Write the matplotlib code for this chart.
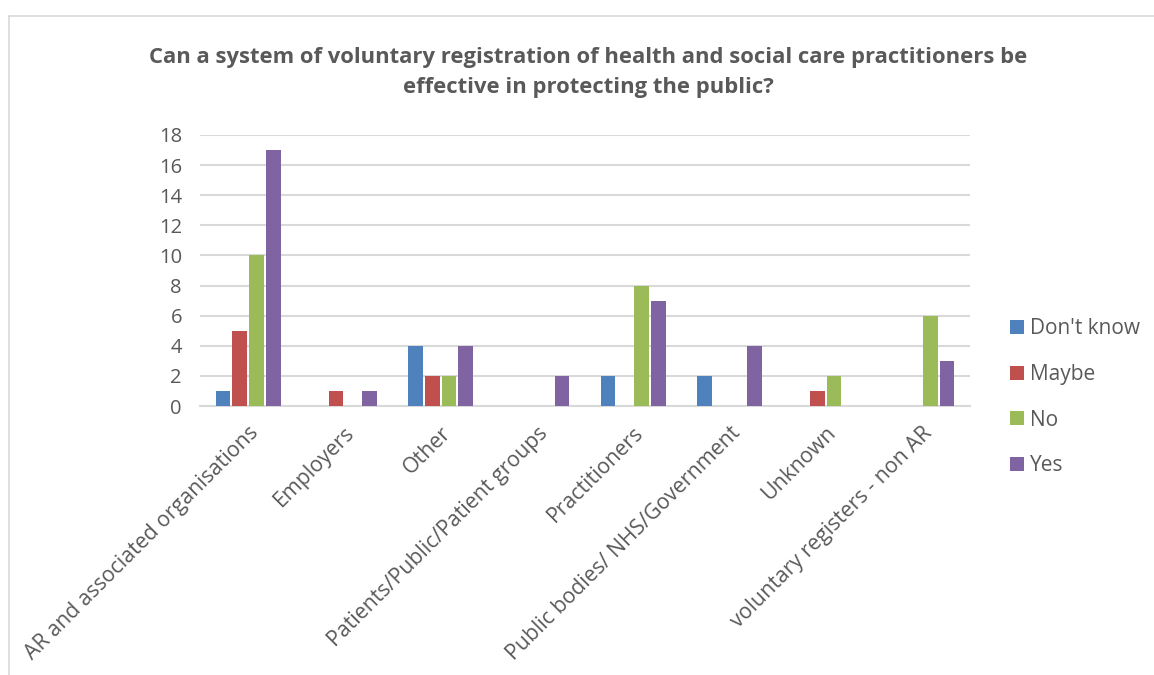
import matplotlib
matplotlib.use("Agg")
import matplotlib.pyplot as plt
import numpy as np
from matplotlib.lines import Line2D

categories = ["AR and associated organisations", "Employers", "Other",
              "Patients/Public/Patient groups", "Practitioners",
              "Public bodies/ NHS/Government", "Unknown",
              "voluntary registers - non AR"]
series_names = ["Don't know", "Maybe", "No", "Yes"]
dont_know = [1, 0, 4, 0, 2, 2, 0, 0]
maybe = [5, 1, 2, 0, 0, 0, 1, 0]
no = [10, 0, 2, 0, 8, 0, 2, 6]
yes = [17, 1, 4, 2, 7, 4, 0, 3]
yticks = [0, 2, 4, 6, 8, 10, 12, 14, 16, 18]
title = "Can a system of voluntary registration of health and social care practitioners be\neffective in protecting the public?"

colors = ["#4F81BD", "#C0504D", "#9BBB59", "#8064A2"]
text_col = "#595959"
font = "Open Sans"

fig = plt.figure(figsize=(11.54, 6.75), dpi=100)
ax = fig.add_axes([200/1154, 1-406/675, 770/1154, (406-135)/675])

x = np.arange(len(categories))
w = 0.174
all_series = [dont_know, maybe, no, yes]
for i, (vals, name, c) in enumerate(zip(all_series, series_names, colors)):
    ax.bar(x + (i - 1.5) * w, vals, width=w * 0.88, color=c, label=name,
           linewidth=0, zorder=3)

ax.set_xlim(-0.5, len(categories) - 0.5)
ax.set_ylim(0, 18)
ax.set_yticks(yticks)
ax.set_yticklabels([str(t) for t in yticks], fontsize=14.5, color=text_col, family=font)
ax.yaxis.grid(True, color="#D9D9D9", linewidth=1.5, zorder=0)
ax.set_axisbelow(True)
for s in ["top", "right", "left"]:
    ax.spines[s].set_visible(False)
ax.spines["bottom"].set_color("#D9D9D9")
ax.spines["bottom"].set_linewidth(1.5)
ax.tick_params(axis="both", length=0)
ax.tick_params(axis="y", pad=13)
ax.set_xticks(x)
ax.set_xticklabels(categories, rotation=45, ha="right", rotation_mode="anchor",
                   fontsize=15.3, color=text_col, family=font)
ax.tick_params(axis="x", pad=12)

fig.text(0.51, 1-72.5/675, title, ha="center", va="center", fontsize=15.8,
         fontweight="bold", color=text_col, family=font, linespacing=1.6)

leg = fig.legend(loc="upper left", bbox_to_anchor=(1002/1154, 1-310/675),
                 frameon=False, fontsize=15, handlelength=0.65, handleheight=0.65,
                 handletextpad=0.3, labelspacing=1.18, borderaxespad=0)
for t in leg.get_texts():
    t.set_color(text_col)
    t.set_family(font)

# chart border
fig.add_artist(Line2D([9/1154, 9/1154], [0, 1-16/675], color="#D9D9D9", linewidth=1.2, transform=fig.transFigure))
fig.add_artist(Line2D([9/1154, 1], [1-16/675, 1-16/675], color="#D9D9D9", linewidth=1.2, transform=fig.transFigure))

fig.savefig("out.png", dpi=100)
